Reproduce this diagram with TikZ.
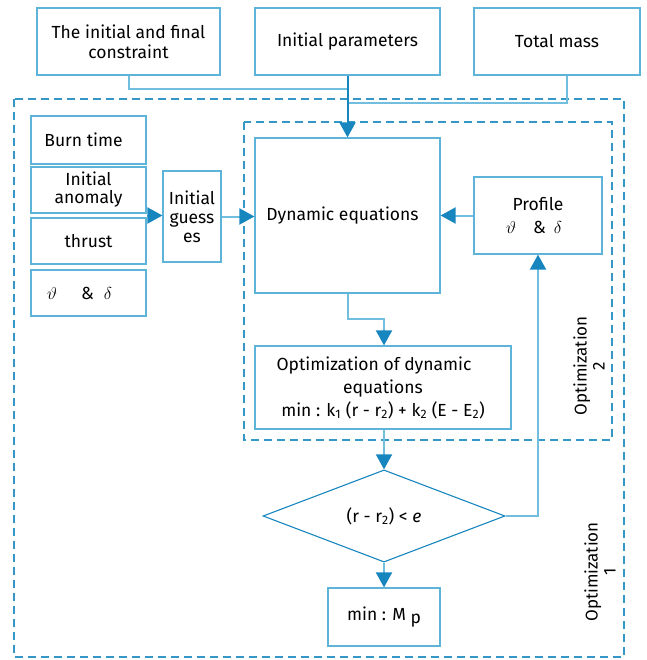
\documentclass[tikz,border=0pt]{standalone}
\usepackage{fontspec}
\setmainfont{Fira Sans}
\usetikzlibrary{arrows.meta,shapes.geometric,calc}
\definecolor{boxblue}{HTML}{5DB3D8}
\definecolor{lineblue}{HTML}{72BEDF}
\definecolor{arrowblue}{HTML}{1786BE}
\definecolor{dashblue}{HTML}{3596C8}
\tikzset{
  bx/.style={draw=boxblue, line width=1.2pt, inner sep=2pt, align=center, font=\fontsize{17.5}{20}\selectfont, text=black},
  conn/.style={draw=lineblue, line width=2pt},
  arr/.style={draw=lineblue, line width=2pt, -{Triangle[width=16pt,length=15pt,color=arrowblue]}},
  darr/.style={draw=arrowblue, line width=2pt, -{Triangle[width=16pt,length=15pt,color=arrowblue]}},
  dashbox/.style={draw=dashblue, line width=1.1pt, dash pattern=on 8pt off 5pt},
  lbl/.style={rotate=90, align=center, font=\fontsize{17}{18}\selectfont}
}
\begin{document}
\begin{tikzpicture}[x=1pt,y=-1pt]
\useasboundingbox (0,0) rectangle (646,660);
% dashed frames
\draw[dashbox] (14,99) rectangle (624,657);
\draw[dashbox] (244,122) rectangle (612,440);
% top boxes
\node[bx, minimum width=183pt, minimum height=67pt] (c1) at (128.5,41.5) {The initial and final\\constraint};
\node[bx, minimum width=185pt, minimum height=67pt] (c2) at (347.5,41.5) {Initial parameters};
\node[bx, minimum width=166pt, minimum height=67pt] (c3) at (557,41.5) {Total mass};
% left stack
\node[bx, minimum width=115pt, minimum height=48pt] (bt) at (88.5,140) {\hspace*{-10pt}Burn time};
\node[bx, minimum width=115pt, minimum height=46pt, font=\fontsize{17.5}{18}\selectfont] (ia) at (88.5,190) {Initial\\anomaly};
\node[bx, minimum width=115pt, minimum height=46pt] (th) at (88.5,241) {thrust};
\node[bx, minimum width=115pt, minimum height=46pt] (td) at (88.5,293) {\hspace*{-18pt}$\vartheta$\hspace{24pt}\&\hspace{10pt}$\delta$};
\node[bx, minimum width=58pt, minimum height=91pt, font=\fontsize{17.5}{19}\selectfont] (ig) at (192,216.5) {Initial\\guess\\es};
% main
\node[bx, minimum width=185pt, minimum height=155pt] (de) at (347.5,215.5) {\hspace*{-10pt}Dynamic equations};
\node[bx, minimum width=128pt, minimum height=77pt] (pr) at (538,215.5) {Profile\\[3pt]\hspace*{-8pt}$\vartheta$\hspace{17pt}\&\hspace{8pt}$\delta$};
\node[bx, minimum width=256pt, minimum height=83pt, font=\fontsize{17.5}{23}\selectfont] (op) at (383,387.5)
  {\hspace*{-18pt}Optimization of dynamic\\equations\\min : k\textsubscript{1} (r - r\textsubscript{2}) + k\textsubscript{2} (E - E\textsubscript{2})};
\node[draw=arrowblue, line width=1.1pt, shape=diamond, inner sep=0pt, minimum width=242pt, minimum height=92pt, font=\fontsize{17.5}{20}\selectfont] (dm) at (384,516) {(r - r\textsubscript{2}) < \textit{e}};
\node[bx, minimum width=112pt, minimum height=58pt] (mp) at (384,617) {min : M \raisebox{-0.4ex}{p}};
% labels
\node[lbl] (o2) at (589,366) {Optimization\\2};
\node[lbl] (o1) at (600,572) {Optimization\\1};
% connectors
\coordinate (j1) at (347.5,89);
\coordinate (j3) at (347.5,103);
\draw[conn] (c1.south) |- (j1);
\draw[conn] ([xshift=10pt]c3.south) |- (j3);
\draw[darr] (c2.south) -- (de.north);
\coordinate (s1) at ($(ia.south east)!0.5!(th.north east)$);
\draw[arr] (s1) -- (s1 -| ig.west);
\draw[arr] (ig.east) -- (ig.east -| de.west);
\draw[arr] (pr.west) -- (pr.west -| de.east);
\coordinate (k1) at (347.5,319);
\draw[arr] (de.south) -- (k1) -| (op.north -| dm.north);
\draw[arr] (op.south -| dm.north) -- (dm.north);
\draw[arr] (dm.east) -| (pr.south);
\draw[arr] (dm.south) -- (mp.north);
\end{tikzpicture}
\end{document}
